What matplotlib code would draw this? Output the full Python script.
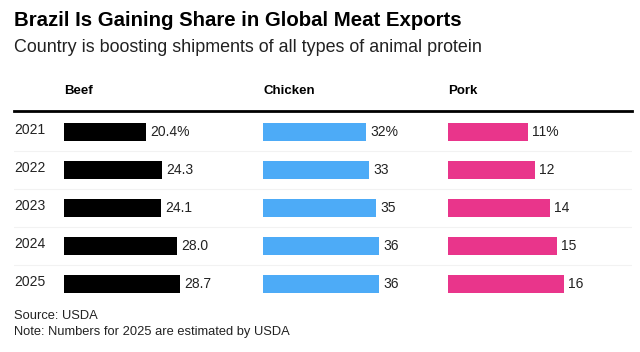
import matplotlib
matplotlib.use("Agg")
import matplotlib.pyplot as plt

plt.rcParams['font.family'] = ['Liberation Sans', 'DejaVu Sans']

years = ['2021', '2022', '2023', '2024', '2025']
categories = ['Beef', 'Chicken', 'Pork']
beef = [20.4, 24.3, 24.1, 28.0, 28.7]
chicken = [32, 33, 35, 36, 36]
pork = [11, 12, 14, 15, 16]
value_labels = [
    ['20.4%', '24.3', '24.1', '28.0', '28.7'],
    ['32%', '33', '35', '36', '36'],
    ['11%', '12', '14', '15', '16'],
]
colors = ['#000000', '#4dabf7', '#e9358b']

W, H = 640, 352
fig = plt.figure(figsize=(W / 100, H / 100), dpi=100)


def fx(px):
    return px / W


def fy(py):
    return 1 - py / H


# layout in pixels
top, bottom = 111, 303
row_top, row_bot = -0.55, 4.5
panel_left = [64, 263, 448]
panel_w = 175
max_len = 116  # pixel length of the largest bar in each panel

fig.text(fx(14), fy(20), 'Brazil Is Gaining Share in Global Meat Exports',
         fontsize=14.7, fontweight='bold', va='center', ha='left')
fig.text(fx(14), fy(47), 'Country is boosting shipments of all types of animal protein',
         fontsize=12.9, va='center', ha='left', color='#222222')

# background axes for row separators and year labels
bg = fig.add_axes([fx(14), fy(bottom), fx(632) - fx(14), fy(top) - fy(bottom)])
bg.set_xlim(0, 1)
bg.set_ylim(row_bot, row_top)
bg.axis('off')
bg.axhline(row_top, color='black', lw=2, clip_on=False)
for i in range(len(years) - 1):
    bg.axhline(i + 0.5, color='#f2f2f2', lw=0.8)
for i, y in enumerate(years):
    bg.text(0, i - 0.04, y, fontsize=10, va='center', ha='left', color='#222222')

for k, (name, vals) in enumerate(zip(categories, [beef, chicken, pork])):
    ax = fig.add_axes([fx(panel_left[k]), fy(bottom), panel_w / W, fy(top) - fy(bottom)])
    ax.set_xlim(0, max(vals) * panel_w / max_len)
    ax.set_ylim(row_bot, row_top)
    ax.axis('off')
    ax.barh(range(len(years)), vals, height=0.47, color=colors[k])
    for i, v in enumerate(vals):
        ax.annotate(value_labels[k][i], (v, i), xytext=(3, 0), textcoords='offset points',
                    fontsize=10, va='center', ha='left', color='#222222')
    fig.text(fx(panel_left[k]), fy(91), name, fontsize=9.5, fontweight='bold',
             va='center', ha='left')

fig.text(fx(14), fy(316), 'Source: USDA', fontsize=9.3, va='center', ha='left', color='#222222')
fig.text(fx(14), fy(332), 'Note: Numbers for 2025 are estimated by USDA', fontsize=9.3,
         va='center', ha='left', color='#222222')

fig.savefig('out.png', dpi=100, facecolor='white')
